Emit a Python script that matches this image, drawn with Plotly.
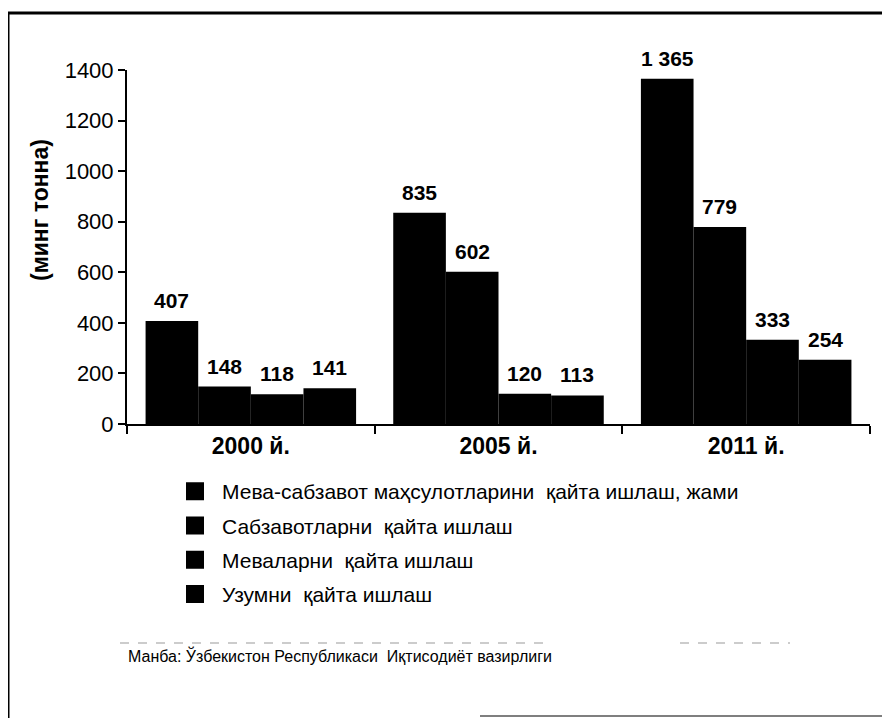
import plotly.graph_objects as go

years = ["2000 й.", "2005 й.", "2011 й."]
series_names = [
    "Мева-сабзавот маҳсулотларини  қайта ишлаш, жами",
    "Сабзавотларни  қайта ишлаш",
    "Меваларни  қайта ишлаш",
    "Узумни  қайта ишлаш",
]
total_processing = [407, 835, 1365]
vegetable_processing = [148, 602, 779]
fruit_processing = [118, 120, 333]
grape_processing = [141, 113, 254]
y_ticks = [0, 200, 400, 600, 800, 1000, 1200, 1400]
y_title = "(минг тонна)"
source_text = "Манба: Ўзбекистон Республикаси  Иқтисодиёт вазирлиги"

# page has an 8px body margin; figure sized to fit the viewport
OFF = 8
W, H = 890 - OFF, 718 - OFF
L, T = 127 - OFF, 70 - OFF
PR, PB = 870 - OFF, 424 - OFF
R, B = W - PR, H - PB
PW, PH = PR - L, PB - T

def px(x):
    return (x - OFF - L) / PW

def py(y):
    return (PB - (y - OFF)) / PH

FONT = "Liberation Sans, Arial, sans-serif"
BARGAP = 0.15
n_series = 4
bar_w = (1 - BARGAP) / n_series

def fmt(v):
    return f"{v:,}".replace(",", " ")

fig = go.Figure()
all_series = [total_processing, vegetable_processing, fruit_processing, grape_processing]
annotations = []
for i, (name, vals) in enumerate(zip(series_names, all_series)):
    label = name.replace("  ", "\u00a0 ")
    fig.add_trace(go.Bar(
        x=years, y=vals, name=label,
        legendgroup=f"g{i}", showlegend=False,
        marker=dict(color="#000000", line=dict(width=0)),
    ))
    # legend entry with a larger square icon, linked to the bar trace
    fig.add_trace(go.Scatter(
        x=[None], y=[None], mode="markers", name=label, legendgroup=f"g{i}",
        marker=dict(symbol="square", size=16, color="#000000",
                    line=dict(color="#000000", width=2)),
        hoverinfo="skip",
    ))
    offset = -(1 - BARGAP) / 2 + bar_w * (i + 0.5)
    for j, v in enumerate(vals):
        annotations.append(dict(
            x=j + offset, y=v, xref="x", yref="y", text=fmt(v), showarrow=False,
            yanchor="bottom", yshift=7,
            font=dict(family=FONT, size=21, color="#000000", weight="bold"),
        ))

shapes = [
    # frame
    dict(type="line", xref="paper", yref="paper", x0=px(8), x1=px(8), y0=py(12), y1=py(718),
         line=dict(color="#000", width=3)),
    dict(type="line", xref="paper", yref="paper", x0=px(7), x1=px(890), y0=py(13), y1=py(13),
         line=dict(color="#000", width=3)),
    dict(type="line", xref="paper", yref="paper", x0=px(888), x1=px(888), y0=py(10), y1=py(125),
         line=dict(color="#000", width=1.5)),
    dict(type="line", xref="paper", yref="paper", x0=px(480), x1=px(890), y0=py(716), y1=py(716),
         line=dict(color="#555", width=1.5)),
    # faint scan line above source
    dict(type="line", xref="paper", yref="paper", x0=px(120), x1=px(550), y0=py(643), y1=py(643),
         line=dict(color="#999", width=1, dash="dash")),
    dict(type="line", xref="paper", yref="paper", x0=px(680), x1=px(790), y0=py(643), y1=py(643),
         line=dict(color="#999", width=1, dash="dash")),
]

annotations += [
    dict(text=y_title, xref="paper", yref="paper", x=px(40), y=py(210), textangle=-90,
         xanchor="center", yanchor="middle",
         showarrow=False, font=dict(family=FONT, size=23, color="#000", weight="bold")),
    dict(text=source_text, xref="paper", yref="paper", x=px(126), y=py(655), xanchor="left",
         yanchor="middle", showarrow=False,
         font=dict(family=FONT, size=16, color="#000")),
]

fig.update_layout(
    width=W, height=H,
    margin=dict(l=L, r=R, t=T, b=B, autoexpand=False),
    paper_bgcolor="white", plot_bgcolor="white",
    barmode="group", bargap=BARGAP, bargroupgap=0,
    font=dict(family=FONT, color="#000"),
    showlegend=True,
    legend=dict(x=px(168), y=py(471), xanchor="left", yanchor="top",
                font=dict(family=FONT, size=21, color="#000"),
                itemwidth=44, tracegroupgap=4, bgcolor="rgba(0,0,0,0)",
                traceorder="grouped"),
    shapes=shapes, annotations=annotations,
    xaxis=dict(showline=True, linecolor="#000", linewidth=2, ticks="outside",
               tickson="boundaries", ticklen=8, tickwidth=2, tickcolor="#000",
               tickfont=dict(family=FONT, size=23, color="#000", weight="bold"),
               showgrid=False, zeroline=False),
    yaxis=dict(range=[0, 1400], tickvals=y_ticks, showline=True, linecolor="#000", linewidth=2,
               ticks="outside", ticklen=7, tickwidth=2, tickcolor="#000",
               tickfont=dict(family=FONT, size=22, color="#000"),
               showgrid=False, zeroline=False),
)

fig.write_html("out.html")
